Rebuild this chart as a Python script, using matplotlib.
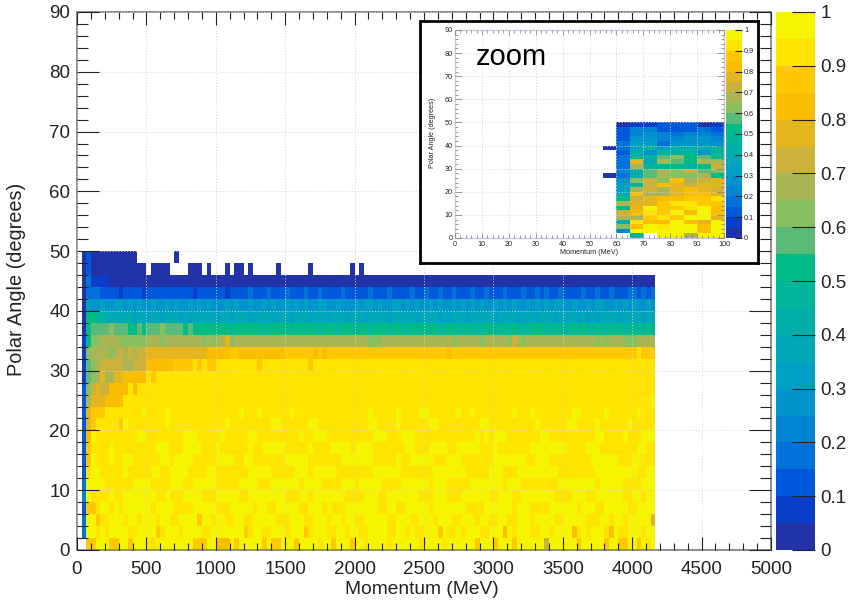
import numpy as np
import matplotlib
matplotlib.use('Agg')
import matplotlib.pyplot as plt
from matplotlib.colors import ListedColormap, BoundaryNorm
from matplotlib.ticker import MultipleLocator

plt.rcParams['font.family'] = ['Liberation Sans', 'DejaVu Sans']

W, H = 849, 603

# one character per cell = colour level (0-9, a-j), '.' = empty bin
# rows are 2 degrees high, columns 33.3 MeV wide
row_00 = "..hhjjjhhj jhjjjiijjj jjjjjhhhjj gggjhjjjjj hjhhjjjhjj jjijjhjjjh jjijjjjijj jjjjijjjji jjjjjjhjjj hjjjhjjjjj jejjjjjjhj jjjjhjjhhj jhjij"
row_01 = ".3jjijijjj jiijjjjhij jjijjjjiij jjjjjjhijj iijjjijjjh ijjjiijjij jiijjjjiij jijiijjjhj iijijjjiij jjgjijjjii jjijjjjgij ijjjigjiij jjijj"
row_02 = ".3jjhiijjj ijjijjjijj iijjjjhjji jjiijjiijj jjjiiijjji ijjjijjijj iijjjjjiij jjiijjjijj jiijjjijji ijjiijjjij jjjiijjjjj iiijjijjij jjjjf"
row_03 = ".2hhijjiji jjjjjjijjj jiiiijjjjj iiijjjjjij jiijjjjjii jjjijiiijj jjjjjiijji ijjjjjijjj jjjjiiiijj jjjjijjjii iijjjjjjij jjiijjjjji ijjjj"
row_04 = ".4jiiiijii jjjjjjjiij iiijjjjiii jjjjjiijjj jjjjjiiijj ijjjjjjjii iijjjiijjj jjjjiiijjj iiijjjjjji ijjjiijjjj jjjiiiijjj iijjjjjjii jjijj"
row_05 = ".3jjjjiiii iijjjjiiii jjjiijjjjj iiiiijjjji iijjjjjjij jjjiiiijjj ijjjjjiiii jjjjjjijjj iiiiijjjjj jjijjjiiii iiiijjjjjj jjijjjjjii iijjj"
row_06 = ".2ijjiiiii jiiiiijjii jjjjiiiijj iiiiiiijjj jjiiiiijjj ijjjjjiiii iiiijjjjjj iiiiiiijjj jjjjiiiiij jjiiijjjjj jjjjiiiiii iijjjjjjjj jiijj"
row_07 = ".2hjiiijii jjiiiiiijj ijjjjiiiii jjjjiijjii iiiiijjjjj iiiiiiijjj jjjjiiiiij iijjjjjiii jjjiiiiiii jjjjjjjiij jjiiiiiiii ijjjjjjiii jjiii"
row_08 = ".2hiiiijii iiiiiiijjj iiijjjjiii jiiiiiijii jjjjjiiiii jiiiijjjji jjjjiiiiii ijjiiijjjj iijjjjjiii jiiiiiiijj jjjjjjiiii jjjiiiiiii ijjii"
row_09 = ".2gjiiiiii iiijjiiiii iiijjjiiii ijiiiiijji iiiiiiiiji ijjjiiiiii iiiijjjiii jjjiiiiiii iiiiiijiji jjjiiiiiii jjiiiiiiii iijjiiiiji iijjj"
row_10 = ".2fhiiiiih jiiiiiiiij iiiiiiiiii iijiiiiiii iijjiiiiii jjiiiiiiii iiijjiiiij iiiiiijjii iiiiiiijji iiiiiiiiij iiiiiijjii iijiiiiiij iiiii"
row_11 = ".2fhhhiiii iiiijiiiij iiiiiiiiii iiiiijiiij iiiiiijiii iiiiiiiiii iiijiiiiij iiiijjiiii iijiijiiii iiiijiiiji iiiiiiijji iiiijiiiii ijiii"
row_12 = ".2dfffgggg iiiiiiiiii iiiiiiiiii iiiiiiiiii iiiiiiiiii iiiiiiiiii iiiiiiiiii iiiiiiiiii iiiiiiiiii iiiiiiiiii iiiiiiiiii iiiiiiiiii iiiij"
row_13 = ".2cefeeggg gigiiiiiii iiiiiiiiii iiiiiiiiii iiiiiiiiii iiiiiiiiii iiiiiiiiii iiiiiiiiii iiiiiiiiii iiiiiiiiii iiiiiiiiii iiiiiiiiii iiiii"
row_14 = ".1bcdfddff gggggihiii iiiiiiiiii iiiiiiiiii iiiiiiiiii iiiiiiiiii iiiiiiiiii iiiiiiiiii iiiiiiiiii iiiiiiiiii iiiiiiiiii iiiiiiiiii iiiii"
row_15 = ".1bcdeeeee ddeeeggggg ghhhhihihh iiiiiiiiih iiiiiiiiii hiiiiiiiii iiiiiiiiii iiiiiiiiii iiiiiiiiii iiiiiiiiii iiiiiiiiii iiiiiiiiii iiiii"
row_16 = ".1cddddcde dedeefffff ffffffffgg ggghhggggg ggggghhhhh hghghhhhhh hhhhhhhhhh hhhhhhhhhh ghhhhhhhhh hhhhhhhhhh hhhhhhhhhh hhhhhhhhhh hihhh"
row_17 = ".1accddddc cccccdddcd dddddddcdc ddfcdddddd dddddddddd dddddddddd dddcccdddd dddddddddd dcdddddcdd dddcedcddd dddddddddd ddcdcdddcc cdddd"
row_18 = ".0abbbbcbb baababbbcb bbbabaaaaa aaa9aaaaaa 9aaaaa9aaa aa9aaa9aaa 9aa9aaa9aa 99a9aa9a99 aa99a999aa 99a9a999aa a99a999a9a 99a99a9a99 a99a9"
row_19 = ".0aa997777 7867767767 7767677777 6776777677 7767776777 6777677767 7767777677 7776777767 6777677777 6777767776 7776777767 6767777677 77677"
row_20 = ".065565566 5656556556 5655656565 5565655655 6565565656 5566556555 6566565566 5656556565 5656565655 6565655656 5656655655 6566556565 65565"
row_21 = ".033322221 2222122222 2222212222 2212222322 2322232223 2232222322 2223222322 2232232232 2322232232 2232223223 2322322223 2232232223 32323"
row_22 = ".031111000 0000000000 0000000000 0000000000 0000000000 0000000000 0000000000 0000000000 0000000000 0000000000 0000000000 0000000000 00000"
row_23 = ".020000000 00000.0000 ....000.0. ..0.00.0.. ...0...... 0........0 .0........ .......... .......... .......... .......... .......... ....."
row_24 = ".020000000 000....... .0........ .......... .......... .......... .......... .......... .......... .......... .......... ....."
main_rows = [row_00, row_01, row_02, row_03, row_04, row_05, row_06, row_07, row_08,
             row_09, row_10, row_11, row_12, row_13, row_14, row_15, row_16, row_17,
             row_18, row_19, row_20, row_21, row_22, row_23, row_24]

# zoomed in panel, columns 5 MeV wide, from 55 to 100 MeV
zoom_rows = [
    "..9.jjdjj", ".4jjjjjgj", ".cgjijjgj", ".8iggjgfj", ".ddhihjjf",
    ".egihjgjg", ".afjhhijg", ".dffhiihh", ".aefgghhi", ".7gddfggf",
    ".6dedfgfe", ".69egfeff", ".5cecgdef", "038bdccda", ".48bdcebc",
    ".3d99a8ae", ".3f7dbadd", ".398bcaba", ".28588959", "036968889",
    ".36635555", ".25544554", ".24543443", ".24422232", ".01122201",
]
zoom_left = 55

level_colors = ['#2233a8', '#0a3ec8', '#0059db', '#0072d8', '#0085d2', '#0093cc', '#009fc4',
                '#00a8b8', '#00afa8', '#00b59a', '#00bb85', '#5aba78', '#88bf60', '#aab555',
                '#ccb23c', '#e5b51f', '#fabd00', '#ffc800', '#ffe400', '#f5f500']
codes = '0123456789abcdefghij'
cmap = ListedColormap(level_colors)
cmap.set_bad('white', 0)
bounds = np.linspace(0, 1, 21)
norm = BoundaryNorm(bounds, 20)


def decode(rows, n):
    out = np.full((len(rows), n), np.nan)
    for r, s in enumerate(rows):
        s = s.replace(' ', '')
        for c, ch in enumerate(s[:n]):
            if ch != '.':
                out[r, c] = (codes.index(ch) + 0.5) / 20
    return np.ma.masked_invalid(out)


def px_axes(fig, x0, y0, x1, y1, **kw):
    return fig.add_axes([x0 / W, 1 - y1 / H, (x1 - x0) / W, (y1 - y0) / H], **kw)


def style_axes(ax, xmaj, xmin, ymaj, ymin, size, lw, tick_col, spine_col):
    ax.set_xlim(xmaj[0], xmaj[-1])
    ax.set_ylim(0, 90)
    ax.set_xticks(xmaj)
    ax.set_yticks(ymaj)
    ax.xaxis.set_minor_locator(MultipleLocator(xmin))
    ax.yaxis.set_minor_locator(MultipleLocator(ymin))
    ax.tick_params(which='major', direction='in', top=True, right=True,
                   width=lw, labelsize=size, color=tick_col, labelcolor='#222222')
    ax.tick_params(which='minor', direction='in', top=True, right=True,
                   width=lw, color=tick_col)
    ax.grid(True, which='major', color='#d2d2d2', linestyle=(0, (1, 2)), linewidth=0.7)
    ax.set_axisbelow(False)
    for sp in ax.spines.values():
        sp.set_color(spine_col)
        sp.set_linewidth(1.4 * lw + 0.3)


def colorbar(fig, mesh, cax, size, length):
    cb = fig.colorbar(mesh, cax=cax, ticks=np.arange(0, 1.01, 0.1), spacing='proportional',
                      drawedges=False)
    cb.ax.set_yticklabels(['0', '0.1', '0.2', '0.3', '0.4', '0.5', '0.6', '0.7', '0.8', '0.9', '1'])
    cb.ax.tick_params(direction='in', length=length, width=0.8, labelsize=size, pad=4,
                      color='#222222', labelcolor='#222222')
    cb.ax.minorticks_off()
    cb.outline.set_visible(False)


fig = plt.figure(figsize=(W / 100, H / 100), dpi=100)

# main panel
ax = px_axes(fig, 77, 12, 771, 550)
main = decode(main_rows, 125)
x_edges = np.arange(126) * 100 / 3
y_edges = np.arange(26) * 2.0
mesh = ax.pcolormesh(x_edges, y_edges, main, cmap=cmap, norm=norm)
style_axes(ax, np.arange(0, 5001, 500), 100, np.arange(0, 91, 10), 2, 13.5, 0.8,
           '#222222', '#909090')
ax.tick_params(axis='x', which='major', length=9.5, pad=8)
ax.tick_params(axis='x', which='minor', length=5)
ax.tick_params(axis='y', which='major', length=16, pad=5)
ax.tick_params(axis='y', which='minor', length=8)
fig.text(422 / W, 1 - 590 / H, 'Momentum (MeV)', ha='center', va='center', fontsize=13.8, color='#222222')
fig.text(17 / W, 1 - 279 / H, 'Polar Angle (degrees)', ha='center', va='center', rotation=90,
         fontsize=14.3, color='#222222')

cax = px_axes(fig, 776, 12, 815, 550)
colorbar(fig, mesh, cax, 13.5, 16.5)

# white box holding the zoomed panel
box = px_axes(fig, 420, 21, 758, 263)
box.set_xticks([])
box.set_yticks([])
box.set_facecolor('white')
box.set_zorder(5)
for sp in box.spines.values():
    sp.set_color('black')
    sp.set_linewidth(2)

inset = px_axes(fig, 455, 30, 724, 238)
inset.set_zorder(6)
zoomed = decode(zoom_rows, 9)
zx_edges = zoom_left + np.arange(10) * 5.0
zmesh = inset.pcolormesh(zx_edges, y_edges, zoomed, cmap=cmap, norm=norm)
style_axes(inset, np.arange(0, 101, 10), 2, np.arange(0, 91, 10), 2, 5.2, 0.5,
           '#777777', '#c4c8d8')
inset.tick_params(axis='x', which='major', length=3.5, pad=2.5)
inset.tick_params(axis='x', which='minor', length=2)
inset.tick_params(axis='y', which='major', length=5, pad=1.5)
inset.tick_params(axis='y', which='minor', length=2.5)
fig.text(589 / W, 1 - 253 / H, 'Momentum (MeV)', ha='center', va='center', fontsize=5.2,
         color='#222222', zorder=7)
fig.text(433 / W, 1 - 133 / H, 'Polar Angle (degrees)', ha='center', va='center', rotation=90,
         fontsize=5.2, color='#222222', zorder=7)
fig.text(511 / W, 1 - 57 / H, 'zoom', ha='center', va='center', fontsize=21, color='black', zorder=7)

zcax = px_axes(fig, 725.5, 30, 742, 238)
zcax.set_zorder(6)
colorbar(fig, zmesh, zcax, 5.2, 5)
zcax.tick_params(pad=1.5)

fig.savefig('out.png', dpi=100)
